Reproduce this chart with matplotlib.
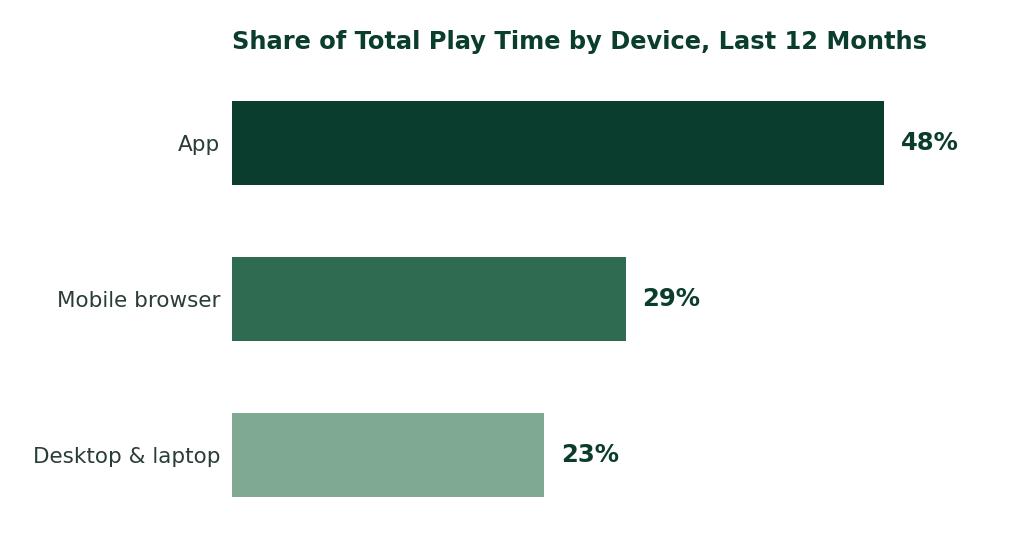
import matplotlib
matplotlib.use("Agg")
import matplotlib.pyplot as plt

# Datos del gráfico
devices = ["App", "Mobile browser", "Desktop & laptop"]
shares = [48, 29, 23]
bar_colors = ["#0b3d2e", "#2e6b50", "#7fa990"]

title_color = "#0b3d2e"
label_color = "#2a3d36"

fig = plt.figure(figsize=(10.24, 5.49), dpi=100)
ax = fig.add_axes([232 / 1024, 29 / 549, 768 / 1024, 440 / 549])

y_pos = list(range(len(devices)))
ax.barh(y_pos, shares, height=0.54, color=bar_colors)

ax.set_xlim(0, 768 / 13.58)
ax.set_ylim(2 + 65 / 156, -63 / 156)

ax.set_yticks(y_pos)
ax.set_yticklabels(devices, fontsize=15.5, color=label_color)
ax.tick_params(axis="y", length=0, pad=8.5)
ax.set_xticks([])
for s in ax.spines.values():
    s.set_visible(False)

# Etiquetas de valor al final de cada barra
for y, v in zip(y_pos, shares):
    ax.annotate(f"{v}%", (v, y), xytext=(12, 0), textcoords="offset points",
                va="center", ha="left", fontsize=17.5, fontweight="bold",
                color=title_color)

fig.text(232 / 1024, 1 - 42 / 549, "Share of Total Play Time by Device, Last 12 Months",
         fontsize=17.4, fontweight="bold", color=title_color, ha="left", va="center")

fig.savefig("out.png", dpi=100)
